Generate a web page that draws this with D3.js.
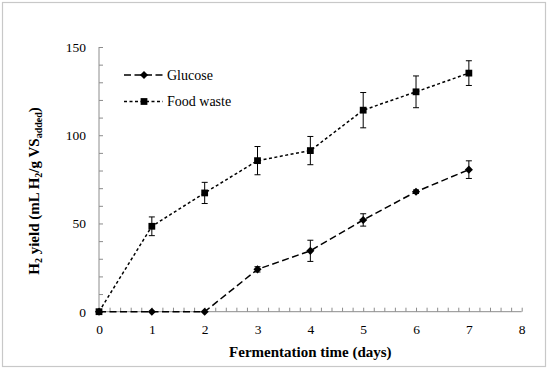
<!DOCTYPE html>
<html>
<head>
<meta charset="utf-8">
<script src="https://cdn.jsdelivr.net/npm/d3@7"></script>
<style>
  body { margin: 0; background: #fff; }
  svg { display: block; font-family: 'Liberation Serif', 'DejaVu Serif', serif; }
  .axis path, .axis line { stroke: #8c8c8c; }
  .axis text { font-size: 13.5px; fill: #000; font-family: 'Liberation Serif', serif; }
</style>
</head>
<body>
<div id="chart"></div>
<script>
// data
const days = [0, 1, 2, 3, 4, 5, 6, 7]
const glucose = [0, 0, 0, 24, 34.5, 52, 68, 80.5]
const glucoseErr = [0, 0, 0, 1.5, 6, 3.5, 1, 5]
const foodWaste = [0, 48.4, 67.3, 85.6, 91.3, 114.2, 124.6, 135.2]
const foodWasteErr = [0, 5.3, 6, 8, 8, 10, 9, 7]
const xTicks = [0, 1, 2, 3, 4, 5, 6, 7, 8]
const yTicks = [0, 50, 100, 150]

const width = 550
const height = 371
const margin = { top: 47, right: 28, bottom: 59, left: 99 }

const svg = d3.select('#chart')
  .append('svg')
  .attr('width', width)
  .attr('height', height)

// light frame around the whole figure
svg.append('rect')
  .attr('x', 2.5)
  .attr('y', 2.5)
  .attr('width', 543)
  .attr('height', 364)
  .attr('fill', 'none')
  .attr('stroke', '#c8c8c8')
  .attr('stroke-width', 1.2)

const x = d3.scaleLinear()
  .domain([0, 8])
  .range([margin.left, width - margin.right - 0.3])

const y = d3.scaleLinear()
  .domain([0, 150])
  .range([height - margin.bottom - 0.3, margin.top])

// minor ticks, drawn inside the plot
const xMinor = d3.axisBottom(x)
  .tickValues(d3.range(0, 8.01, 0.2))
  .tickSize(-4)
  .tickFormat('')
const yMinor = d3.axisLeft(y)
  .tickValues(d3.range(0, 150.1, 10))
  .tickSize(-4)
  .tickFormat('')

svg.append('g')
  .attr('class', 'axis')
  .attr('transform', `translate(0,${y(0)})`)
  .call(xMinor)
  .call(g => g.select('.domain').remove())

svg.append('g')
  .attr('class', 'axis')
  .attr('transform', `translate(${x(0)},0)`)
  .call(yMinor)
  .call(g => g.select('.domain').remove())

const xAxis = d3.axisBottom(x)
  .tickValues(xTicks)
  .tickSize(0)
  .tickPadding(13)
  .tickFormat(d3.format('d'))
const yAxis = d3.axisLeft(y)
  .tickValues(yTicks)
  .tickSize(0)
  .tickPadding(13)
  .tickFormat(d3.format('d'))

svg.append('g')
  .attr('class', 'axis')
  .attr('transform', `translate(0,${y(0)})`)
  .call(xAxis)
  .call(g => g.select('.domain').attr('d', `M${x(0)},0H${x(8)}`))

svg.append('g')
  .attr('class', 'axis')
  .attr('transform', `translate(${x(0)},0)`)
  .call(yAxis)
  .call(g => g.select('.domain').attr('d', `M0,${y(0)}V${y(150)}`))

// axis titles
svg.append('text')
  .attr('x', (x(0) + x(8)) / 2)
  .attr('y', 357)
  .attr('text-anchor', 'middle')
  .attr('font-weight', 'bold')
  .attr('font-size', 15)
  .text('Fermentation time (days)')

const yTitle = svg.append('text')
  .attr('transform', 'translate(39,191) rotate(-90)')
  .attr('text-anchor', 'middle')
  .attr('font-weight', 'bold')
  .attr('font-size', 15)
yTitle.append('tspan').text('H')
yTitle.append('tspan').attr('font-size', 10).attr('dy', 3).text('2')
yTitle.append('tspan').attr('dy', -3).text(' yield (mL H')
yTitle.append('tspan').attr('font-size', 10).attr('dy', 3).text('2')
yTitle.append('tspan').attr('dy', -3).text('/g VS')
yTitle.append('tspan').attr('font-size', 10).attr('dy', 3).text('added')
yTitle.append('tspan').attr('dy', -3).text(')')

const series = [
  { name: 'Glucose', values: glucose, errors: glucoseErr, dash: '7,3.5', symbol: d3.symbolDiamond2, size: 42 },
  { name: 'Food waste', values: foodWaste, errors: foodWasteErr, dash: '3,2.5', symbol: d3.symbolSquare, size: 46 }
]

const line = d3.line()
  .x((d, i) => x(days[i]))
  .y(d => y(d))

const plot = svg.append('g')

series.forEach(s => {
  plot.append('path')
    .datum(s.values)
    .attr('d', line)
    .attr('fill', 'none')
    .attr('stroke', '#000')
    .attr('stroke-width', 1.5)
    .attr('stroke-dasharray', s.dash)

  const bars = plot.append('g')
    .selectAll('g')
    .data(days.filter((d, i) => s.errors[i] > 0))
    .join('g')
    .attr('stroke', '#000')
    .attr('stroke-width', 1)
  const err = d => s.errors[days.indexOf(d)]
  const val = d => s.values[days.indexOf(d)]
  bars.append('line')
    .attr('x1', d => x(d)).attr('x2', d => x(d))
    .attr('y1', d => y(val(d) - err(d))).attr('y2', d => y(val(d) + err(d)))
  bars.append('line')
    .attr('x1', d => x(d) - 3).attr('x2', d => x(d) + 3)
    .attr('y1', d => y(val(d) + err(d))).attr('y2', d => y(val(d) + err(d)))
  bars.append('line')
    .attr('x1', d => x(d) - 3).attr('x2', d => x(d) + 3)
    .attr('y1', d => y(val(d) - err(d))).attr('y2', d => y(val(d) - err(d)))

  plot.append('g')
    .selectAll('path')
    .data(s.values)
    .join('path')
    .attr('transform', (d, i) => `translate(${x(days[i])},${y(d)})`)
    .attr('d', d3.symbol(s.symbol, s.size))
    .attr('fill', '#000')
})

// legend
const legend = svg.append('g')
  .selectAll('g')
  .data(series)
  .join('g')
  .attr('transform', (d, i) => `translate(124,${75 + i * 26.5})`)

legend.append('line')
  .attr('x1', 0).attr('x2', 39)
  .attr('stroke', '#000')
  .attr('stroke-width', 1.5)
  .attr('stroke-dasharray', d => d.dash)

legend.append('path')
  .attr('transform', 'translate(20,0)')
  .attr('d', d => d3.symbol(d.symbol, d.size)())
  .attr('fill', '#000')

legend.append('text')
  .attr('x', 43)
  .attr('dy', '0.35em')
  .attr('font-size', 14)
  .text(d => d.name)
</script>
</body>
</html>
